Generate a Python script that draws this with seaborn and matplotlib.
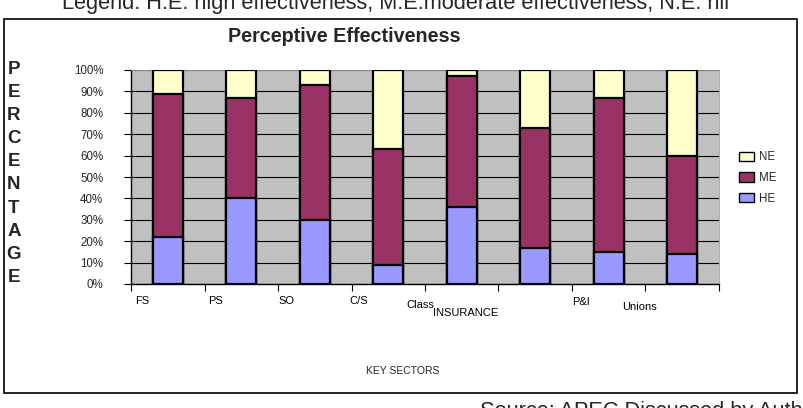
import matplotlib
matplotlib.use("Agg")
import matplotlib.pyplot as plt
import matplotlib.transforms as mtransforms
import seaborn as sns
import pandas as pd
import numpy as np
from matplotlib.patches import Rectangle, Patch

sectors = ["FS", "PS", "SO", "C/S Class", "INSURANCE", "SEC6", "P&I", "Unions"]
tick_texts = ["FS", "PS", "SO", "C/S", "Class", "INSURANCE", "P&I", "Unions"]
he = [22, 40, 30, 9, 36, 17, 15, 14]
me = [67, 47, 63, 54, 61, 56, 72, 46]
ne = [11, 13, 7, 37, 3, 27, 13, 40]

sns.set_theme(style="white")
plt.rcParams['font.family'] = ['Liberation Sans', 'DejaVu Sans']

df = pd.DataFrame({"sector": sectors, "HE": he, "ME": me, "NE": ne})
df["c_he"] = df["HE"]
df["c_me"] = df["HE"] + df["ME"]
df["c_ne"] = df["HE"] + df["ME"] + df["NE"]

fig = plt.figure(figsize=(8.04, 4.08), dpi=100)
W, H = 804, 408
ax = fig.add_axes([131 / W, 1 - 284 / H, (719 - 131) / W, (284 - 70) / H])
ax.set_facecolor("#C0C0C0")

col_he, col_me, col_ne = "#9999FF", "#993366", "#FFFFCC"
for col, c in [("c_ne", col_ne), ("c_me", col_me), ("c_he", col_he)]:
    sns.barplot(data=df, x="sector", y=col, color=c, width=0.41,
                edgecolor="black", linewidth=1.6, ax=ax, saturation=1, zorder=3)

ax.set_ylim(0, 100)
ax.set_xlim(-0.5, len(sectors) - 0.5)
ax.set_yticks(np.arange(0, 101, 10))
ax.set_yticklabels([f"{v}%" for v in range(0, 101, 10)], fontsize=8.3)
ax.yaxis.grid(True, color="black", linewidth=0.8, zorder=0)
ax.set_axisbelow(True)
ax.set_xticks(np.arange(-0.5, len(sectors), 1.0))
ax.set_xticklabels([])
ax.tick_params(axis="both", direction="out", length=5, width=0.8, color="black",
               bottom=True, left=True)
ax.tick_params(axis="y", pad=15)
ax.set_xlabel("")
ax.set_ylabel("")
for s in ["left", "bottom"]:
    ax.spines[s].set_color("black")
    ax.spines[s].set_linewidth(1.0)
for s in ["top", "right"]:
    ax.spines[s].set_color("#A0A0A0")
    ax.spines[s].set_linewidth(0.6)

# category labels (as placed in the original)
label_pos = [(135, 301), (208, 301), (278, 301), (349, 301),
             (406, 305), (433, 313), (572, 302), (622, 307)]
blend = mtransforms.blended_transform_factory(ax.transData, fig.transFigure)
for t, (px, py) in zip(tick_texts, label_pos):
    xd = (px - 131) / 73.5 - 0.5
    ax.text(xd, 1 - py / H, t, transform=blend,
            ha="left", va="center", fontsize=8, color="black")

# title
fig.text(344 / W, 1 - 37 / H, "Perceptive Effectiveness", ha="center", va="center",
         fontsize=14.2, fontweight="bold")

# vertical PERCENTAGE label
for i, ch in enumerate("PERCENTAGE"):
    fig.text(14 / W, 1 - (69 + i * 23.2) / H, ch, ha="center", va="center",
             fontsize=13.5, fontweight="bold")

fig.text(403 / W, 1 - 371 / H, "KEY SECTORS", ha="center", va="center", fontsize=7.5)

# legend
handles = [Patch(facecolor=col_ne, edgecolor="black", label="NE"),
           Patch(facecolor=col_me, edgecolor="black", label="ME"),
           Patch(facecolor=col_he, edgecolor="black", label="HE")]
fig.legend(handles=handles, loc="center left", bbox_to_anchor=(729 / W, 1 - 178 / H),
           frameon=False, fontsize=8.3, handlelength=1.3, handleheight=0.9,
           handletextpad=0.4, labelspacing=0.75)

# outer frame
fig.patches.append(Rectangle((4 / W, 1 - 393 / H), 793 / W, 374 / H,
                             transform=fig.transFigure, fill=False,
                             edgecolor="black", linewidth=1.2))

# cut-off document text
fig.text(62 / W, 1 - 9 / H,
         "Legend: H.E. high effectiveness, M.E.moderate effectiveness, N.E. nil",
         ha="left", va="baseline", fontsize=15.7)
fig.text(480 / W, 1 - 401 / H, "Source: APEC Discussed by Author",
         ha="left", va="top", fontsize=15.7)

fig.savefig("out.png", dpi=100)
